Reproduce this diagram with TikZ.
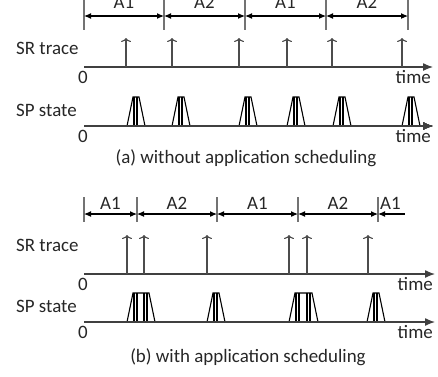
\documentclass[tikz,border=0pt]{standalone}
\usepackage{fontspec}
\setmainfont{Carlito}
\usetikzlibrary{arrows.meta}

\tikzstyle{every node}=[font=\fontsize{19}{21}\selectfont, inner sep=0pt, text=black!85]
\tikzstyle{axis}=[draw=black!75, line width=1.3bp, -{Latex[length=10bp,width=8bp]}]
\tikzstyle{span}=[draw=black, line width=1.1bp, {Latex[length=7bp,width=6bp]}-{Latex[length=7bp,width=6bp]}]
\tikzstyle{halfspan}=[draw=black, line width=1.1bp, {Latex[length=7bp,width=6bp]}-]
\tikzstyle{bound}=[draw=black!55, line width=1.1bp]
\tikzstyle{request}=[draw=black!70, line width=1.1bp, -{To[length=4bp,width=10bp]}]
\tikzstyle{burst}=[draw=black, line width=1.1bp]

% one SP burst, from SR #1 to SR #2, on the axis at height #3
\newcommand{\spburst}[3]{%
  \draw[burst] (#1,#3) -- (#1+6,#3-29) -- (#2+12,#3-29) -- (#2+18,#3);
  \draw[burst] (#1+7,#3) -- (#1+7,#3-29) (#1+10,#3) -- (#1+10,#3-29)
               (#2+7,#3) -- (#2+7,#3-29) (#2+10,#3) -- (#2+10,#3-29);
}

\begin{document}
\begin{tikzpicture}[x=1bp, y=-1bp]
    \useasboundingbox (0,0) rectangle (438,376);

    % (a) without application scheduling
    \foreach \t in {84,164,245,326,408}
        \draw[bound] (\t,-2) -- (\t,30);
    \foreach \a/\b/\app in {84/164/A1, 164/245/A2, 245/326/A1, 326/408/A2} {
        \coordinate (ia) at (\a,16);
        \coordinate (ib) at (\b,16);
        \draw[span] (ia) -- (ib);
        \node[anchor=base] (appa\a) at ({(\a+\b)/2},8) {\app};
    }

    \node[anchor=base west] (srlabela) at (16,54) {SR trace};
    \coordinate (sra) at (84,67);
    \coordinate (srenda) at (433,67);
    \draw[axis] (sra) -- (srenda);
    \node[anchor=base] (zerosra) at (83,83) {0};
    \node[anchor=base east] (timesra) at (431,83) {time};
    \foreach \s in {126,172,239,287,332,402} {
        \coordinate (req) at (\s,67);
        \coordinate (reqtop) at (\s,38);
        \draw[request] (req) -- (reqtop);
    }

    \node[anchor=base west] (splabela) at (16,116) {SP state};
    \coordinate (spa) at (84,126);
    \coordinate (spenda) at (433,126);
    \foreach \s in {127,172,239,287,333,402}
        \spburst{\s}{\s}{126}
    \draw[axis] (spa) -- (spenda);
    \node[anchor=base] (zerospa) at (83,142) {0};
    \node[anchor=base east] (timespa) at (431,142) {time};

    \node[anchor=base] (capa) at (246,163) {(a) without application scheduling};

    % (b) with application scheduling
    \foreach \t in {84,137,217,298,378}
        \draw[bound] (\t,197) -- (\t,222);
    \foreach \a/\b/\app in {84/137/A1, 137/217/A2, 217/298/A1, 298/378/A2} {
        \coordinate (ia) at (\a,214);
        \coordinate (ib) at (\b,214);
        \draw[span] (ia) -- (ib);
        \node[anchor=base] (appb\a) at ({(\a+\b)/2},209) {\app};
    }
    \coordinate (ia) at (378,214);
    \coordinate (ib) at (405,214);
    \draw[halfspan] (ia) -- (ib);
    \node[anchor=base west] (appblast) at (380,209) {A1};

    \node[anchor=base west] (srlabelb) at (16,251) {SR trace};
    \coordinate (srb) at (84,274);
    \coordinate (srendb) at (435,274);
    \draw[axis] (srb) -- (srendb);
    \node[anchor=base] (zerosrb) at (83,290) {0};
    \node[anchor=base east] (timesrb) at (433,290) {time};
    \foreach \s in {127,144,207,289,307,368} {
        \coordinate (req) at (\s,274);
        \coordinate (reqtop) at (\s,235);
        \draw[request] (req) -- (reqtop);
    }

    \node[anchor=base west] (splabelb) at (16,312) {SP state};
    \coordinate (spb) at (84,322);
    \coordinate (spendb) at (435,322);
    \spburst{127}{137}{322}
    \spburst{207}{207}{322}
    \spburst{289}{300}{322}
    \spburst{367}{367}{322}
    \draw[axis] (spb) -- (spendb);
    \node[anchor=base] (zerospb) at (83,338) {0};
    \node[anchor=base east] (timespb) at (433,338) {time};

    \node[anchor=base] (capb) at (248,362) {(b) with application scheduling};
\end{tikzpicture}
\end{document}
